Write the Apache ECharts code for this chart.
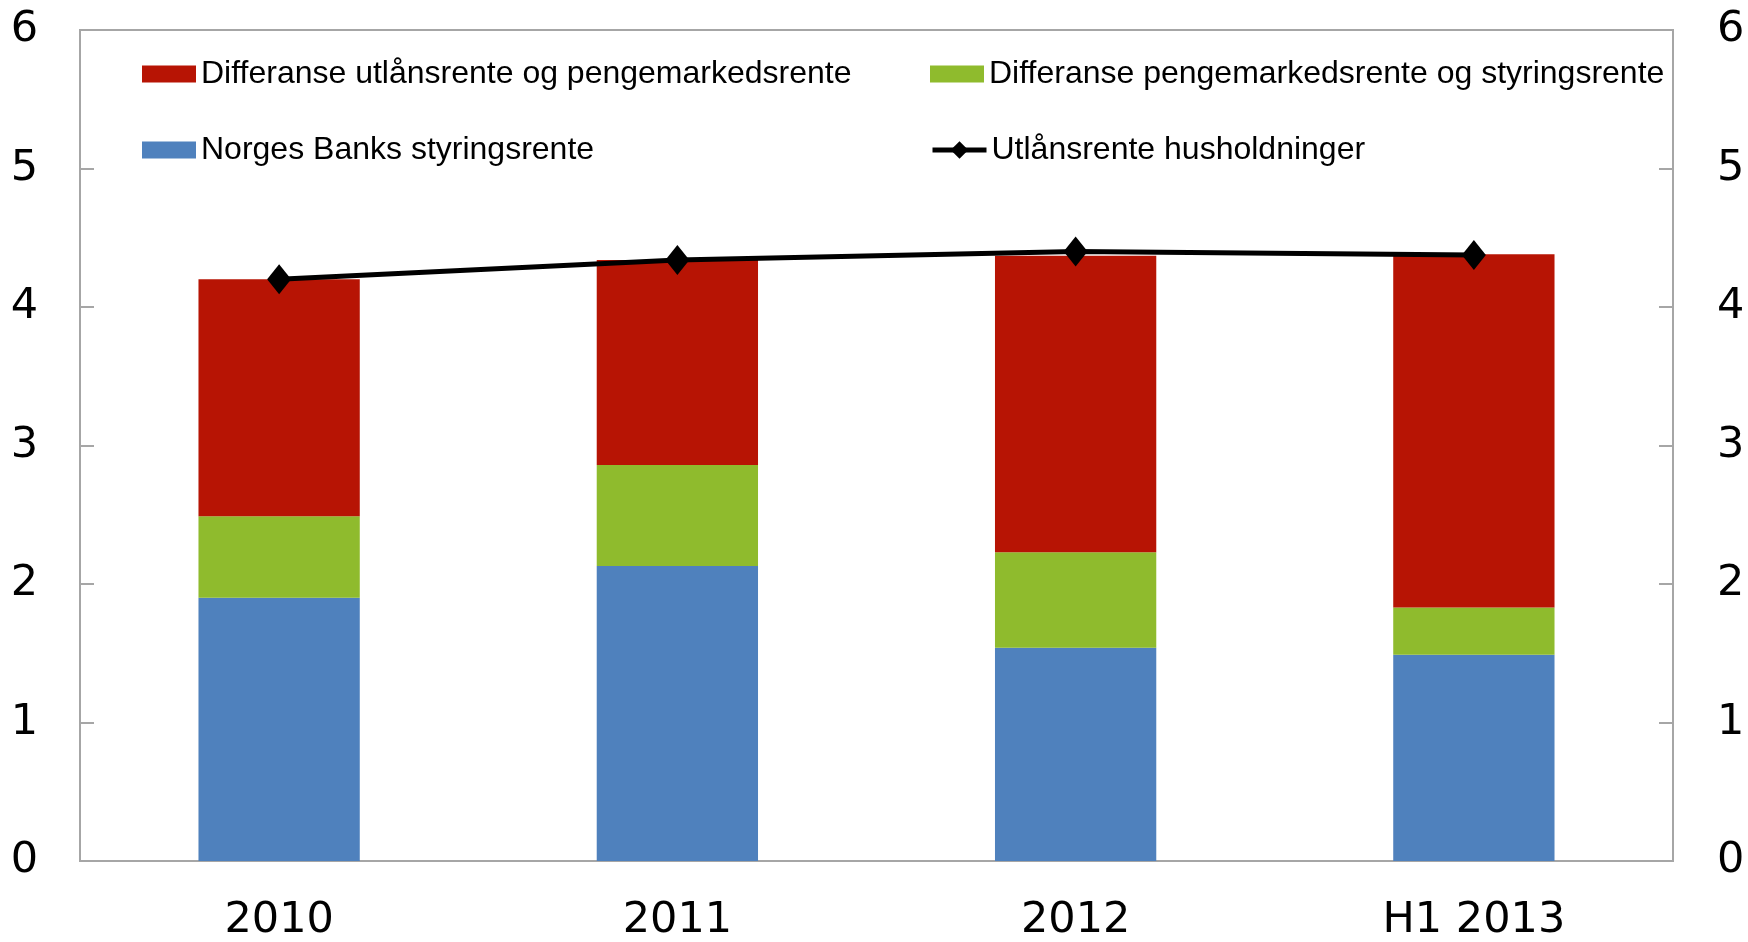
<!DOCTYPE html>
<html>
<head>
<meta charset="utf-8">
<script src="https://cdn.jsdelivr.net/npm/echarts@6/dist/echarts.min.js"></script>
<style>html,body{margin:0;padding:0;background:#fff;}#c{width:1748px;height:942px;}</style>
</head>
<body>
<div id="c"></div>
<script>
var categories = ['2010', '2011', '2012', 'H1 2013'];
var styringsrente = [1.90, 2.13, 1.54, 1.49];
var diffPengeStyring = [0.59, 0.73, 0.69, 0.34];
var diffUtlanPenge = [1.71, 1.48, 2.14, 2.55];
var utlansrente = [4.20, 4.34, 4.40, 4.375];
var yTicks = [0, 1, 2, 3, 4, 5, 6];

var nRed = 'Differanse utlånsrente og pengemarkedsrente';
var nGreen = 'Differanse pengemarkedsrente og styringsrente';
var nBlue = 'Norges Banks styringsrente';
var nLine = 'Utlånsrente husholdninger';

var axisGray = '#a6a6a6';
var tickFont = {fontFamily: 'DejaVu Sans', fontSize: 43, color: '#000'};
var legText = {fontFamily: 'Liberation Sans', fontSize: 32, color: '#000'};

function leg(name, left, top, isLine) {
  var o = {
    data: [name], left: left, top: top, selectedMode: false,
    itemWidth: 54, itemHeight: isLine ? 22 : 17, itemGap: 0,
    textStyle: legText, padding: 0
  };
  if (isLine) {
    o.lineStyle = {width: 5, color: '#000'};
  } else {
    o.icon = 'rect';
  }
  return o;
}

var chart = echarts.init(document.getElementById('c'), null, {renderer: 'canvas'});
chart.setOption({
  animation: false,
  backgroundColor: '#fff',
  grid: {left: 80, right: 75, top: 30, bottom: 79, show: true, borderColor: axisGray, borderWidth: 2, backgroundColor: 'transparent'},
  legend: [
    leg(nRed, 142, 58, false),
    leg(nGreen, 930, 58, false),
    leg(nBlue, 142, 134, false),
    leg(nLine, 930, 134, true)
  ],
  xAxis: {
    type: 'category', data: categories, boundaryGap: true,
    axisLine: {lineStyle: {color: axisGray, width: 2}},
    axisTick: {inside: true, length: 14, lineStyle: {color: axisGray, width: 2}},
    axisLabel: Object.assign({margin: 38}, tickFont),
    splitLine: {show: false}
  },
  yAxis: [
    {
      type: 'value', min: 0, max: 6, interval: 1, position: 'left',
      axisLine: {show: true, lineStyle: {color: axisGray, width: 2}},
      axisTick: {show: true, inside: true, length: 14, lineStyle: {color: axisGray, width: 2}},
      axisLabel: Object.assign({margin: 42, formatter: function (v) { return yTicks.indexOf(v) >= 0 ? String(v) : ''; }}, tickFont),
      splitLine: {show: false}
    },
    {
      type: 'value', min: 0, max: 6, interval: 1, position: 'right',
      axisLine: {show: true, lineStyle: {color: axisGray, width: 2}},
      axisTick: {show: true, inside: true, length: 14, lineStyle: {color: axisGray, width: 2}},
      axisLabel: Object.assign({margin: 44, formatter: function (v) { return yTicks.indexOf(v) >= 0 ? String(v) : ''; }}, tickFont),
      splitLine: {show: false}
    }
  ],
  series: [
    {name: nBlue, type: 'bar', stack: 'a', data: styringsrente, barWidth: '40.5%', itemStyle: {color: '#4f81bd'}},
    {name: nGreen, type: 'bar', stack: 'a', data: diffPengeStyring, itemStyle: {color: '#8fbb2d'}},
    {name: nRed, type: 'bar', stack: 'a', data: diffUtlanPenge, itemStyle: {color: '#b71404'}},
    {name: nLine, type: 'line', data: utlansrente, symbol: 'diamond', symbolSize: [24, 30],
     lineStyle: {color: '#000', width: 5}, itemStyle: {color: '#000'}, z: 5}
  ]
});
</script>
</body>
</html>
